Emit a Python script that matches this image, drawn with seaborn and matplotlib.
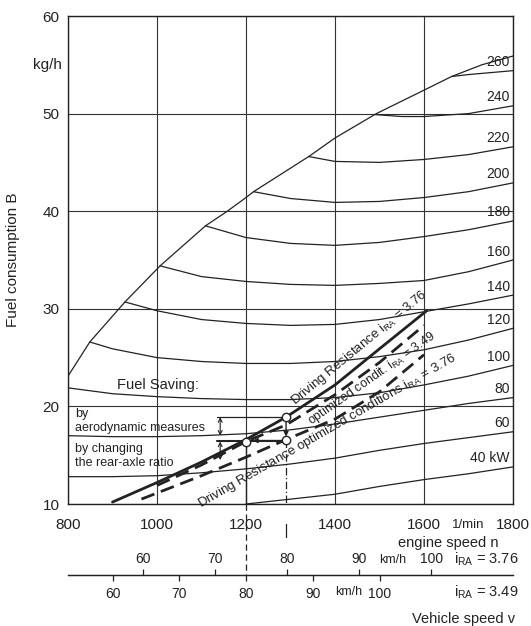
import matplotlib
matplotlib.use("Agg")
import matplotlib.pyplot as plt
import matplotlib.transforms as mtrans
import seaborn as sns

# ---------------- data ----------------
x_ticks = [800, 1000, 1200, 1400, 1600, 1800]
y_ticks = [10, 20, 30, 40, 50, 60]

# full-load (envelope) curve
full_n = [800, 849, 928, 1007, 1109, 1158, 1200, 1217, 1341, 1400, 1493, 1600, 1662, 1730, 1800]
full_B = [23.1, 26.6, 30.7, 34.4, 38.5, 40.0, 41.4, 42.0, 45.6, 47.5, 50.0, 52.4, 53.8, 55.0, 55.9]

# constant power lines (kW)
p260_n = [1662, 1700, 1750, 1800]
p260_B = [53.8, 54.0, 54.2, 54.4]
p240_n = [1490, 1550, 1600, 1700, 1800]
p240_B = [49.9, 49.7, 49.7, 50.0, 50.8]
p220_n = [1341, 1400, 1500, 1600, 1700, 1800]
p220_B = [45.6, 45.1, 45.0, 45.3, 45.8, 46.6]
p200_n = [1217, 1300, 1400, 1500, 1600, 1700, 1800]
p200_B = [42.0, 41.3, 40.9, 41.0, 41.4, 42.0, 42.9]
p180_n = [1109, 1200, 1300, 1400, 1500, 1600, 1700, 1800]
p180_B = [38.5, 37.3, 36.7, 36.5, 36.8, 37.4, 38.1, 39.0]
p160_n = [1007, 1100, 1200, 1300, 1400, 1500, 1600, 1700, 1800]
p160_B = [34.4, 33.3, 32.8, 32.5, 32.4, 32.6, 32.9, 33.8, 35.0]
p140_n = [928, 1000, 1100, 1200, 1300, 1400, 1500, 1600, 1700, 1800]
p140_B = [30.7, 29.8, 28.9, 28.5, 28.3, 28.4, 28.9, 29.7, 30.5, 31.4]
p120_n = [849, 900, 1000, 1100, 1200, 1300, 1400, 1500, 1600, 1700, 1800]
p120_B = [26.6, 25.9, 25.0, 24.6, 24.4, 24.4, 24.6, 25.1, 25.8, 26.8, 28.0]
p100_n = [800, 900, 1000, 1100, 1200, 1300, 1400, 1500, 1600, 1700, 1800]
p100_B = [21.9, 21.3, 21.0, 20.8, 20.7, 20.7, 20.9, 21.4, 22.2, 23.1, 24.2]
p80_n = [800, 900, 1000, 1100, 1200, 1300, 1400, 1500, 1600, 1700, 1800]
p80_B = [17.0, 16.9, 16.9, 17.0, 17.2, 17.6, 18.2, 18.9, 19.6, 20.3, 20.9]
p60_n = [800, 900, 1000, 1100, 1200, 1300, 1400, 1500, 1600, 1700, 1800]
p60_B = [12.8, 12.8, 12.9, 13.2, 13.6, 14.1, 14.7, 15.5, 16.2, 16.8, 17.4]
p40_n = [1200, 1300, 1400, 1500, 1600, 1700, 1800]
p40_B = [10.0, 10.5, 11.0, 11.8, 12.5, 13.1, 13.8]
power_labels = ["260", "240", "220", "200", "180", "160", "140", "120", "100", "80", "60", "40 kW"]

# driving resistance curves
dr_base_n = [900, 1000, 1100, 1200, 1290, 1400, 1500, 1606]
dr_base_B = [10.2, 12.2, 14.3, 16.6, 18.9, 22.2, 25.9, 29.8]
dr_349_n = [1000, 1100, 1200, 1290, 1400, 1500, 1600]
dr_349_B = [11.9, 14.0, 16.4, 18.1, 21.2, 24.5, 28.3]
dr_opt_n = [965, 1100, 1200, 1290, 1400, 1500, 1600]
dr_opt_B = [10.5, 12.9, 14.8, 16.6, 18.7, 21.5, 25.3]

# operating points at 80 km/h
op_n = [1200, 1290, 1290]
op_B = [16.4, 18.9, 16.6]

# vehicle speed scales
kmh_ticks = [60, 70, 80, 90, 100]
rpm_per_kmh_376 = 16.16
rpm_per_kmh_349 = 15.0

# ---------------- styling ----------------
sns.set_theme(style="white")
plt.rcParams["font.family"] = ["Liberation Sans", "DejaVu Sans"]
plt.rcParams["mathtext.fontset"] = "custom"
plt.rcParams["mathtext.rm"] = "Liberation Sans"
plt.rcParams["mathtext.it"] = "Liberation Sans:italic"

INK = "#222222"
fig = plt.figure(figsize=(5.31, 6.26), dpi=100)
ax = fig.add_axes([68 / 531, 1 - 504 / 626, 445 / 531, 488 / 626])
ax.set_xlim(800, 1800)
ax.set_ylim(10, 60)

for s in ax.spines.values():
    s.set_color(INK)
    s.set_linewidth(1.0)

ax.set_xticks(x_ticks)
ax.set_yticks(y_ticks)
ax.set_xticklabels([str(v) for v in x_ticks])
ax.set_yticklabels([str(v) for v in y_ticks])
ax.tick_params(axis="x", direction="inout", length=6, width=0.9, pad=7,
               labelsize=11, colors=INK)
ax.tick_params(axis="y", direction="inout", length=8, width=0.9, pad=2,
               labelsize=11, colors=INK)
ax.grid(True, color="#333333", lw=0.8)

# envelope
sns.lineplot(x=full_n, y=full_B, ax=ax, color=INK, lw=0.9, estimator=None, sort=False)

# power lines
power_n = [p260_n, p240_n, p220_n, p200_n, p180_n, p160_n, p140_n, p120_n, p100_n, p80_n, p60_n, p40_n]
power_B = [p260_B, p240_B, p220_B, p200_B, p180_B, p160_B, p140_B, p120_B, p100_B, p80_B, p60_B, p40_B]
for n, B, lab in zip(power_n, power_B, power_labels):
    sns.lineplot(x=n, y=B, ax=ax, color=INK, lw=0.9, estimator=None, sort=False)
    ax.text(1793, B[-1] + 0.15, lab, ha="right", va="bottom", fontsize=10, color=INK)

# driving resistance lines
sns.lineplot(x=dr_base_n, y=dr_base_B, ax=ax, color=INK, lw=2.0, estimator=None, sort=False)
sns.lineplot(x=dr_349_n, y=dr_349_B, ax=ax, color=INK, lw=2.0, estimator=None, sort=False,
             linestyle=(0, (5, 2.5)))
sns.lineplot(x=dr_opt_n, y=dr_opt_B, ax=ax, color=INK, lw=2.0, estimator=None, sort=False,
             linestyle=(0, (5, 2.5)))

iRA = r"$\mathrm{i}_{\mathrm{RA}}$"
ax.text(1455, 26.0, "Driving Resistance " + iRA + " = 3.76", rotation=39.6,
        rotation_mode="anchor", ha="center", va="center", fontsize=9.5, color=INK)
ax.text(1482, 22.85, "optimized condit. " + iRA + " = 3.49", rotation=35,
        rotation_mode="anchor", ha="center", va="center", fontsize=9, color=INK)
ax.text(1382, 17.5, "Driving Resistance optimized conditions " + iRA + " = 3.76", rotation=30,
        rotation_mode="anchor", ha="center", va="center", fontsize=9.5, color=INK)

# fuel saving annotations
ax.text(1002, 22.2, "Fuel Saving:", ha="center", va="center", fontsize=10.5, color=INK)
ax.text(816, 19.2, "by", ha="left", va="center", fontsize=9, color=INK)
ax.text(816, 17.8, "aerodynamic measures", ha="left", va="center", fontsize=9, color=INK)
ax.text(816, 15.6, "by changing", ha="left", va="center", fontsize=9, color=INK)
ax.text(816, 14.2, "the rear-axle ratio", ha="left", va="center", fontsize=9, color=INK)

ax.plot([1135, 1290], [18.9, 18.9], color=INK, lw=0.9)
ax.plot([1135, 1290], [16.5, 16.5], color=INK, lw=1.5)
arrow_kw = dict(arrowstyle="<->", lw=0.8, color=INK, shrinkA=0, shrinkB=0, mutation_scale=7)
ax.annotate("", xy=(1142, 17.0), xytext=(1142, 18.9), arrowprops=arrow_kw)
ax.annotate("", xy=(1142, 14.5), xytext=(1142, 16.4), arrowprops=arrow_kw)
ax.annotate("", xy=(1290, 16.9), xytext=(1290, 18.7),
            arrowprops=dict(arrowstyle="-|>", lw=1.0, color=INK, shrinkA=0, shrinkB=0, mutation_scale=7))
ax.annotate("", xy=(1215, 16.5), xytext=(1285, 16.5),
            arrowprops=dict(arrowstyle="-|>", lw=1.0, color=INK, shrinkA=0, shrinkB=0, mutation_scale=7))

# vertical reference lines
ax.plot([1200, 1200], [16.4, 10], color=INK, lw=1.0)
ax.plot([1200, 1200], [10, 2.7], color=INK, lw=0.9, ls=(0, (5, 3)), clip_on=False)
ax.plot([1290, 1290], [16.6, 10], color=INK, lw=0.9, ls=(0, (6, 2, 1, 2)))
ax.plot([1290, 1290], [7.9, 6.6], color=INK, lw=0.9, clip_on=False)

sns.scatterplot(x=op_n, y=op_B, ax=ax, s=36, color="white", edgecolor=INK, linewidth=1.0, zorder=6)

# axis labels
ax.set_ylabel("Fuel consumption B", fontsize=11, color=INK)
ax.yaxis.set_label_coords(-(68 - 20) / 445, 0.5)
blend = mtrans.blended_transform_factory(ax.transAxes, ax.transData)
ax.text(-0.013, 55, "kg/h", transform=blend, ha="right", va="center", fontsize=11, color=INK)
ax.text(1700, 7.8, "1/min", ha="center", va="center", fontsize=9.5, color=INK)
ax.text(1654, 6.0, "engine speed n", ha="center", va="center", fontsize=10.5, color=INK)

# vehicle speed scales
loc = -(575 - 504) / 488
sec1 = ax.secondary_xaxis(loc, functions=(lambda n: n / rpm_per_kmh_376, lambda v: v * rpm_per_kmh_376))
sec1.set_alignment("top")
sec1.set_xticks(kmh_ticks)
sec1.set_xticklabels([str(v) for v in kmh_ticks])
sec1.tick_params(axis="x", direction="out", length=4, width=0.9, pad=2.5, labelsize=10, colors=INK)
sec2 = ax.secondary_xaxis(loc, functions=(lambda n: n / rpm_per_kmh_349, lambda v: v * rpm_per_kmh_349))
sec2.set_xticks(kmh_ticks)
sec2.set_xticklabels([str(v) for v in kmh_ticks])
sec2.tick_params(axis="x", direction="out", length=4, width=0.9, pad=4.5, labelsize=10, colors=INK)
for s in list(sec1.spines.values()) + list(sec2.spines.values()):
    s.set_color(INK)
    s.set_linewidth(0.9)

ax.text(1530, 4.3, "km/h", ha="center", va="center", fontsize=9, color=INK)
ax.text(1431, 1.0, "km/h", ha="center", va="center", fontsize=9, color=INK)
ax.text(1812, 4.3, iRA + " = 3.76", ha="right", va="center", fontsize=10.5, color=INK)
ax.text(1812, 1.0, iRA + " = 3.49", ha="right", va="center", fontsize=10.5, color=INK)
ax.text(1689, -1.78, "Vehicle speed v", ha="center", va="center", fontsize=10.5, color=INK)

fig.savefig("out.png", dpi=100)
